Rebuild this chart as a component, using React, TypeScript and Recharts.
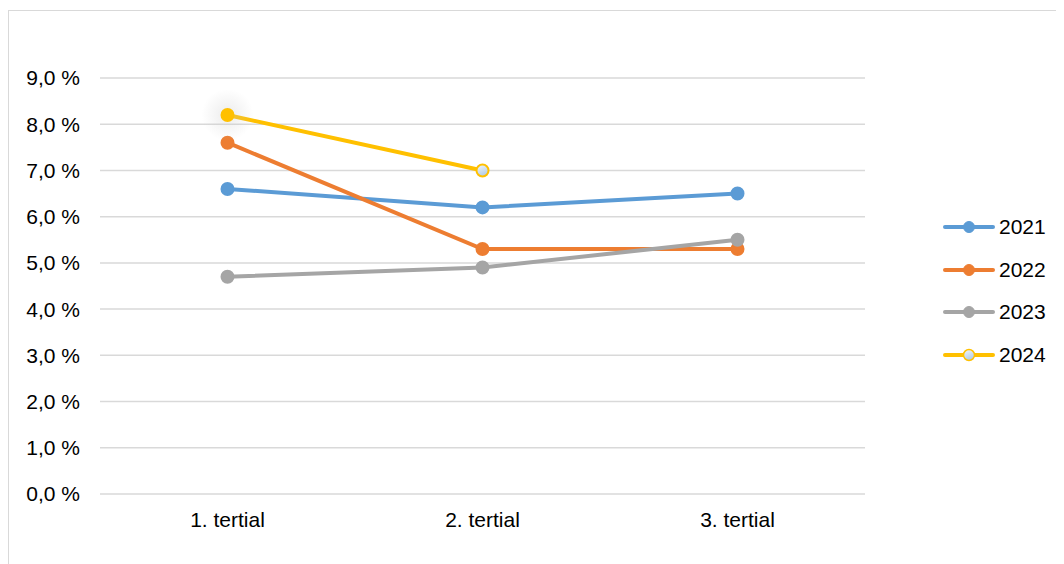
import { LineChart, Line, XAxis, YAxis, CartesianGrid, Legend } from "recharts";

const categories = ["1. tertial", "2. tertial", "3. tertial"];
const years = ["2021", "2022", "2023", "2024"];
const values2021 = [6.6, 6.2, 6.5];
const values2022 = [7.6, 5.3, 5.3];
const values2023 = [4.7, 4.9, 5.5];
const values2024 = [8.2, 7.0, null];
const yTicks = [0, 1, 2, 3, 4, 5, 6, 7, 8, 9];

const colors: Record<string, string> = {
  "2021": "#5B9BD5",
  "2022": "#ED7D31",
  "2023": "#A5A5A5",
  "2024": "#FFC000",
};

const data = categories.map((c, i) => ({
  label: c,
  "2021": values2021[i],
  "2022": values2022[i],
  "2023": values2023[i],
  "2024": values2024[i],
}));

const FONT = '"Liberation Sans", Arial, sans-serif';
const fmt = (v: number) => v.toFixed(1).replace(".", ",") + " %";

function Dot2024(props: any) {
  const { cx, cy, index } = props;
  if (cx == null || cy == null) return null;
  if (index === 0) {
    return (
      <g>
        <circle cx={cx} cy={cy} r={26} fill="url(#glow2024)" />
        <circle cx={cx} cy={cy} r={6} fill="#FFC000" stroke="#FFC000" strokeWidth={2} />
      </g>
    );
  }
  return <circle cx={cx} cy={cy} r={6} fill="url(#fill2024)" stroke="#FFC000" strokeWidth={2} />;
}

function LegendContent() {
  return (
    <div style={{ paddingLeft: 78, fontFamily: FONT, fontSize: 21, color: "#000" }}>
      {years.map((y) => (
        <div key={y} style={{ display: "flex", alignItems: "center", height: 42.5 }}>
          <svg width={52} height={16}>
            <defs>
              <linearGradient id={"lg" + y} x1="0" y1="0" x2="0.4" y2="1">
                <stop offset="0%" stopColor="#F4F8FC" />
                <stop offset="100%" stopColor="#B4CDE6" />
              </linearGradient>
            </defs>
            <line x1={2} y1={8} x2={50} y2={8} stroke={colors[y]} strokeWidth={4} strokeLinecap="round" />
            <circle
              cx={26}
              cy={8}
              r={5.5}
              fill={y === "2024" ? "url(#lg2024)" : colors[y]}
              stroke={colors[y]}
              strokeWidth={y === "2024" ? 1.5 : 1}
            />
          </svg>
          <span style={{ marginLeft: 4 }}>{y}</span>
        </div>
      ))}
    </div>
  );
}

export default function App() {
  return (
    <div
      style={{
        marginTop: 2,
        width: 1070,
        height: 570,
        border: "1px solid #D9D9D9",
        boxSizing: "border-box",
        background: "#fff",
      }}
    >
      <LineChart width={1055} height={553} data={data} margin={{ top: 67, right: 0, bottom: 30, left: 0 }}>
        <defs>
          <radialGradient id="glow2024">
            <stop offset="0%" stopColor="#C8C8C8" stopOpacity={0.35} />
            <stop offset="100%" stopColor="#C8C8C8" stopOpacity={0} />
          </radialGradient>
          <linearGradient id="fill2024" x1="0" y1="0" x2="0.4" y2="1">
            <stop offset="0%" stopColor="#F4F8FC" />
            <stop offset="100%" stopColor="#B4CDE6" />
          </linearGradient>
        </defs>
        <CartesianGrid vertical={false} stroke="#D9D9D9" strokeWidth={1.5} />
        <XAxis
          dataKey="label"
          axisLine={false}
          tickLine={false}
          tickSize={0}
          tickMargin={18}
          height={40}
          padding={{ left: 127.5, right: 127.5 }}
          tick={{ fontSize: 21, fontFamily: FONT, fill: "#000" }}
        />
        <YAxis
          domain={[0, 9]}
          ticks={yTicks}
          axisLine={false}
          tickLine={false}
          tickSize={0}
          tickMargin={20}
          width={91}
          tickFormatter={fmt}
          tick={{ fontSize: 21, fontFamily: FONT, fill: "#000" }}
        />
        <Legend
          layout="vertical"
          align="right"
          verticalAlign="top"
          width={199}
          wrapperStyle={{ top: 195 }}
          content={<LegendContent />}
        />
        {years.slice(0, 3).map((y) => (
          <Line
            key={y}
            dataKey={y}
            stroke={colors[y]}
            strokeWidth={4}
            dot={{ r: 6, fill: colors[y], stroke: colors[y], strokeWidth: 2 }}
            activeDot={false}
            isAnimationActive={false}
          />
        ))}
        <Line
          dataKey="2024"
          stroke={colors["2024"]}
          strokeWidth={4}
          dot={<Dot2024 />}
          activeDot={false}
          isAnimationActive={false}
        />
      </LineChart>
    </div>
  );
}
